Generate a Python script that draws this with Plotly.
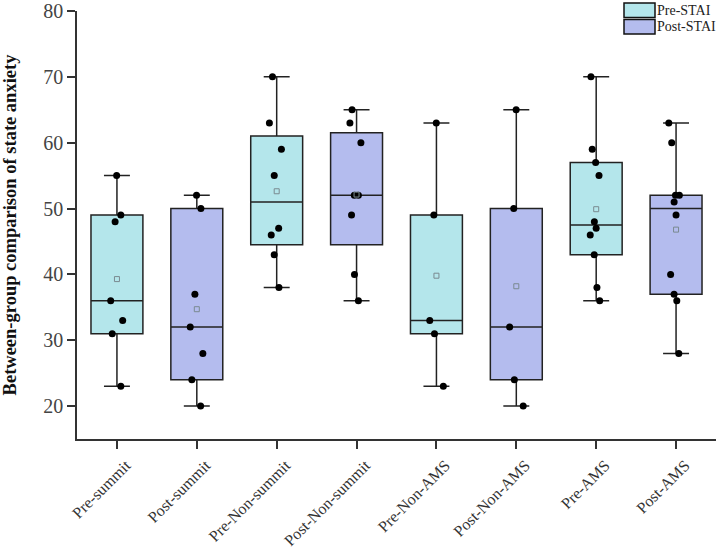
import numpy as np
import plotly.graph_objects as go

categories = ["Pre-summit", "Post-summit", "Pre-Non-summit", "Post-Non-summit",
              "Pre-Non-AMS", "Post-Non-AMS", "Pre-AMS", "Post-AMS"]

pre_labels = ["Pre-summit", "Pre-Non-summit", "Pre-Non-AMS", "Pre-AMS"]
post_labels = ["Post-summit", "Post-Non-summit", "Post-Non-AMS", "Post-AMS"]

pre_values = [
    [55, 49, 48, 36, 33, 31, 23],
    [70, 63, 59, 55, 47, 46, 43, 38],
    [63, 49, 33, 31, 23],
    [70, 59, 57, 55, 48, 47, 46, 43, 38, 36],
]
post_values = [
    [52, 50, 37, 32, 28, 24, 20],
    [65, 63, 60, 52, 52, 49, 40, 36],
    [65, 50, 32, 24, 20],
    [63, 60, 52, 52, 51, 49, 40, 37, 36, 28],
]

series_names = ["Pre-STAI", "Post-STAI"]
y_ticks = [20, 30, 40, 50, 60, 70, 80]

PRE_COLOR = "#B4E6EB"
POST_COLOR = "#B4BCEE"
EDGE = "#222222"
FONT = "Liberation Serif"


def stats(groups):
    q1, med, q3, lo, hi, mean = [], [], [], [], [], []
    for g in groups:
        a = np.array(g, dtype=float)
        p = np.percentile(a, [25, 50, 75], method="averaged_inverted_cdf")
        q1.append(p[0]); med.append(p[1]); q3.append(p[2])
        lo.append(a.min()); hi.append(a.max()); mean.append(a.mean())
    return q1, med, q3, lo, hi, mean


fig = go.Figure()

for name, labels, groups, color in [(series_names[0], pre_labels, pre_values, PRE_COLOR),
                                    (series_names[1], post_labels, post_values, POST_COLOR)]:
    q1, med, q3, lo, hi, mean = stats(groups)
    fig.add_trace(go.Box(
        name=name, x=labels, q1=q1, median=med, q3=q3,
        lowerfence=lo, upperfence=hi,
        fillcolor=color, line=dict(color=EDGE, width=1.5),
        width=0.65, whiskerwidth=0.5, boxpoints=False, showlegend=False,
    ))

# sample points (jittered by plotly)
for labels, groups in [(pre_labels, pre_values), (post_labels, post_values)]:
    xs, ys = [], []
    for lab, g in zip(labels, groups):
        xs += [lab] * len(g)
        ys += list(g)
    fig.add_trace(go.Box(
        x=xs, y=ys, boxpoints="all", jitter=0.3, pointpos=0,
        fillcolor="rgba(0,0,0,0)", line=dict(color="rgba(0,0,0,0)", width=0),
        width=0.65, whiskerwidth=0,
        marker=dict(color="black", size=7), showlegend=False, hoverinfo="y",
    ))

# mean markers
for labels, groups in [(pre_labels, pre_values), (post_labels, post_values)]:
    means = [float(np.mean(g)) for g in groups]
    fig.add_trace(go.Scatter(
        x=labels, y=means, mode="markers",
        marker=dict(symbol="square-open", size=5, color="#7a8a90", line=dict(width=1)),
        showlegend=False,
    ))

# legend drawn as rectangles + text (paper coords)
legend_items = [(series_names[0], PRE_COLOR), (series_names[1], POST_COLOR)]
plot_left, plot_w = 77, 639
plot_top, plot_h = 11, 428
for i, (name, color) in enumerate(legend_items):
    y_top_px = 3 + i * 16.5
    y_bot_px = y_top_px + 14.5
    y0 = 1 + (plot_top - y_bot_px) / plot_h
    y1 = 1 + (plot_top - y_top_px) / plot_h
    fig.add_shape(type="rect", xref="paper", yref="paper",
                  x0=(624 - plot_left) / plot_w, x1=(655 - plot_left) / plot_w, y0=y0, y1=y1,
                  fillcolor=color, line=dict(color="#111", width=1.5))
    fig.add_annotation(xref="paper", yref="paper", x=(655 - plot_left) / plot_w, y=(y0 + y1) / 2,
                       text=name, showarrow=False, xanchor="left", yanchor="middle",
                       font=dict(family=FONT, size=14, color="#222"))

fig.update_layout(
    width=720, height=550,
    margin=dict(l=77, r=4, t=11, b=111),
    paper_bgcolor="white", plot_bgcolor="white",
    boxmode="overlay",
    showlegend=False,
    font=dict(family=FONT, size=15, color="#333"),
    xaxis=dict(
        type="category", categoryorder="array", categoryarray=categories,
        range=[-0.5, 7.5], showline=True, linecolor="#333", linewidth=1.5,
        ticks="outside", ticklen=8, tickwidth=1.5, tickcolor="#333",
        tickangle=-45, tickfont=dict(family=FONT, size=16, color="#333"),
        ticklabelshift=9, ticklabelstandoff=1,
        showgrid=False, zeroline=False, automargin=False,
    ),
    yaxis=dict(
        range=[15, 80], tickvals=y_ticks, showline=True, linecolor="#333", linewidth=1.5,
        ticks="outside", ticklen=8, tickwidth=1.5, tickcolor="#333",
        tickfont=dict(family=FONT, size=20, color="#444"),
        showgrid=False, zeroline=False, automargin=False,
        title=dict(text="<b>Between-group comparison of state anxiety</b>",
                   font=dict(family=FONT, size=18.5, color="#111"), standoff=22),
    ),
)

fig.write_html("out.html")
